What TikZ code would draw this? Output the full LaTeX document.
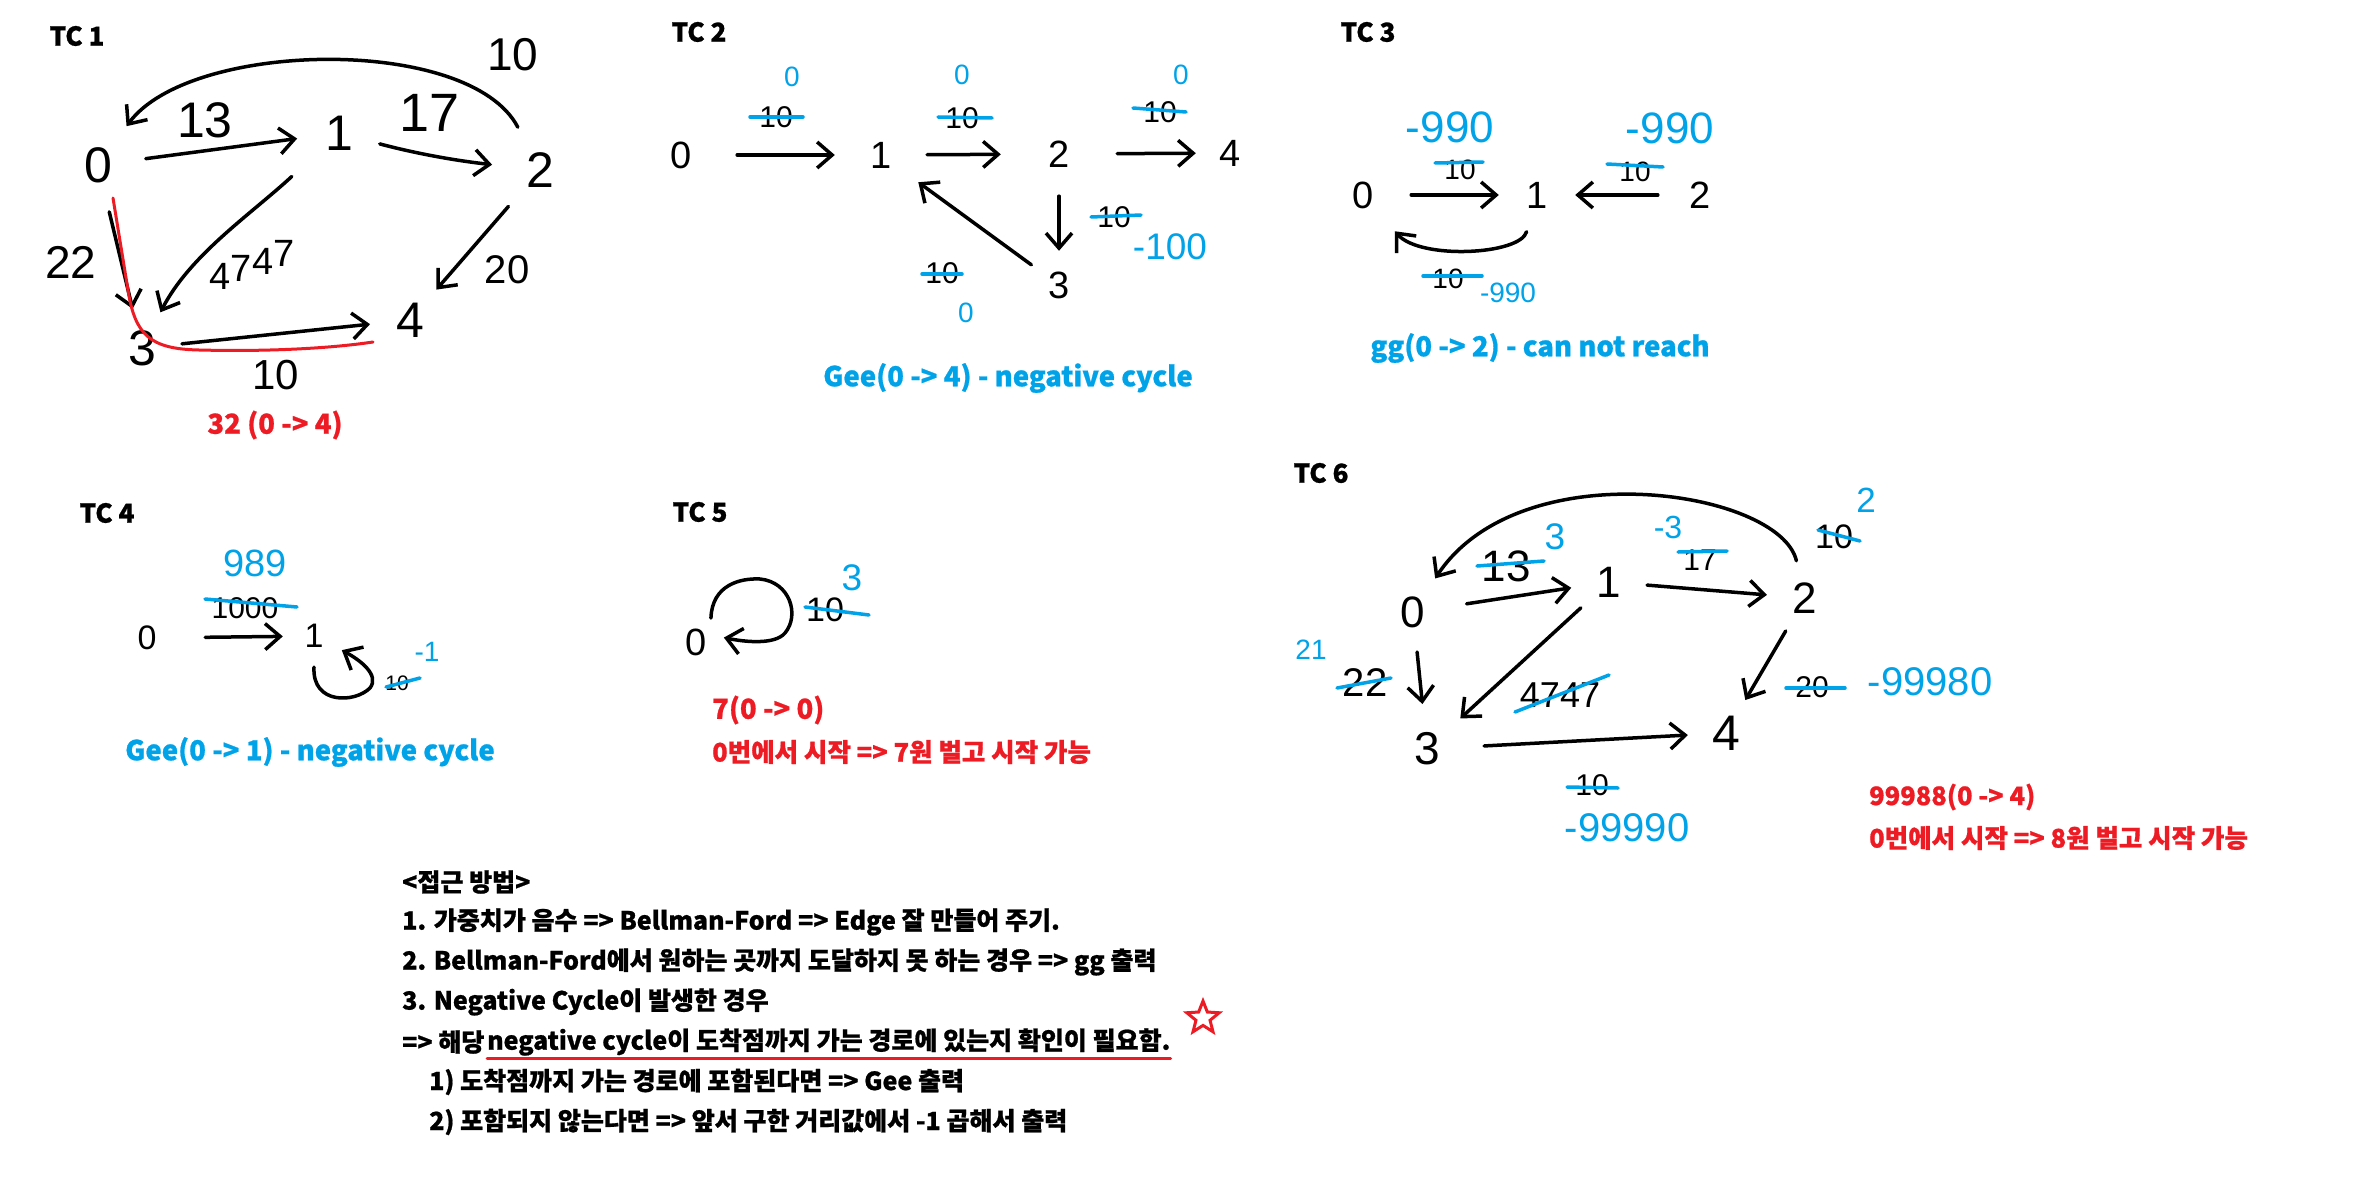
\documentclass[tikz,border=0pt]{standalone}
\usepackage{fontspec}
\setmainfont{Liberation Sans}
\newfontfamily\kr{Noto Sans CJK KR}[BoldFeatures={FakeBold=0.8}]
\usetikzlibrary{arrows.meta,shapes.geometric}
\definecolor{pblue}{RGB}{0,162,232}
\definecolor{pred}{RGB}{237,28,36}
\tikzset{
  hd/.style={circle, inner sep=0pt, minimum size=#1},
  fs/.style={font=\fontsize{#1}{#1}\selectfont},
  wl/.style={inner sep=0pt, font=\fontsize{#1}{#1}\selectfont},
  bl/.style={inner sep=0pt, text=pblue, font=\fontsize{#1}{#1}\selectfont},
  strike/.style={draw=pblue, line width=3.5pt, line cap=round},
  edge/.style={line width=3.5pt, line cap=round, line join=round, -{Straight Barb[length=15pt,width=26pt,line width=3.5pt]}},
  tctitle/.style={inner sep=0pt, font=\kr\bfseries\fontsize{26}{26}\selectfont},
  bigtitle/.style={inner sep=0pt, font=\kr\bfseries\fontsize{27.5}{27.5}\selectfont},
  bluetext/.style={bigtitle, text=pblue},
  redtext/.style={bigtitle, text=pred},
  rednote/.style={inner sep=0pt, anchor=west, text=pred, font=\kr\bfseries\fontsize{25.5}{25.5}\selectfont},
  note/.style={inner sep=0pt, anchor=west, font=\kr\bfseries\fontsize{25}{25}\selectfont},
  redline/.style={draw=pred, line width=3pt, line cap=round, line join=round},
}
\begin{document}
\begin{tikzpicture}[x=1pt,y=-1pt]
\fill[white] (0,0) rectangle (2368,1204);
\useasboundingbox (0,0) rectangle (2368,1204);

% ================= TC 1 =================
\node[tctitle] (tc1) at (77,36) {TC 1};
\node[hd=96, fs=50] (t1a) at (98,165) {0};
\node[hd=84, fs=50] (t1b) at (339,133) {1};
\node[hd=96, fs=50] (t1c) at (540,170) {2};
\node[hd=80, fs=50] (t1d) at (142,348) {3};
\node[hd=80, fs=50] (t1e) at (410,320) {4};
\draw[edge] (t1a) -- (t1b);
\draw[edge] (t1b) .. controls (410,152) and (450,160) .. (t1c);
\draw[edge] (t1c) .. controls (470,35) and (190,40) .. (t1a);
\draw[edge, shorten <=22pt] (t1b) .. controls (250,215) and (190,255) .. (t1d);
\draw[edge] (t1a) -- (t1d);
\draw[edge] (t1c) -- (t1e);
\draw[edge] (t1d) -- (t1e);
\node[wl=50] (l1a) at (205,120) {13};
\node[wl=54] (l1b) at (430,113) {17};
\node[wl=46] (l1c) at (513,55) {10};
\node[wl=38] (l1d) at (252,265) {4\raisebox{8pt}{7}\raisebox{15pt}{4}\raisebox{23pt}{7}};
\node[wl=46] (l1e) at (71,262) {22};
\node[wl=40] (l1f) at (507,270) {20};
\node[wl=42] (l1g) at (276,375) {10};
\draw[redline] (113,198) -- (128,290) .. controls (135,335) and (150,349) .. (199,350) .. controls (280,352) and (340,347) .. (373,342);
\node[redtext] (r1) at (275,425) {32 (0 -> 4)};

% ================= TC 2 =================
\node[tctitle] (tc2) at (699,32) {TC 2};
\node[hd=112, fs=38] (t2a) at (681,155) {0};
\node[hd=92, fs=38] (t2b) at (881,155) {1};
\node[hd=116, fs=38] (t2c) at (1059,154) {2};
\node[hd=68, fs=38] (t2d) at (1059,285) {3};
\node[hd=68, fs=38] (t2e) at (1230,153) {4};
\draw[edge] (t2a) -- (t2b);
\draw[edge] (t2b) -- (t2c);
\draw[edge] (t2c) -- (t2e);
\draw[edge, shorten <=-16pt] (t2c) -- (t2d);
\draw[edge] (t2d) -- (t2b);
\node[wl=30] (w21) at (776,117) {10};
\node[wl=30] (w22) at (962,118) {10};
\node[wl=30] (w23) at (1160,112) {10};
\node[wl=30] (w24) at (1114,217) {10};
\node[wl=30] (w25) at (942,273) {10};
\draw[strike] ([shift={(-26,0)}]w21.center) -- ([shift={(27,0)}]w21.center);
\draw[strike] ([shift={(-24,-1)}]w22.center) -- ([shift={(30,0)}]w22.center);
\draw[strike] ([shift={(-27,-4)}]w23.center) -- ([shift={(26,0)}]w23.center);
\draw[strike] ([shift={(-23,0)}]w24.center) -- ([shift={(27,-2)}]w24.center);
\draw[strike] ([shift={(-20,1)}]w25.center) -- ([shift={(20,1)}]w25.center);
\node[bl=28] (b21) at (792,77) {0};
\node[bl=28] (b22) at (962,75) {0};
\node[bl=28] (b23) at (1181,75) {0};
\node[bl=37] (b24) at (1170,247) {-100};
\node[bl=28] (b25) at (966,313) {0};
\node[bluetext] (g2) at (1008,378) {Gee(0 -> 4) - negative cycle};

% ================= TC 3 =================
\node[tctitle] (tc3) at (1368,32) {TC 3};
\node[hd=96, fs=38] (t3a) at (1363,195) {0};
\node[hd=76, fs=38] (t3b) at (1537,195) {1};
\node[hd=84, fs=38] (t3c) at (1700,195) {2};
\draw[edge] (t3a) -- (t3b);
\draw[edge] (t3c) -- (t3b);
\draw[edge] (t3b) .. controls (1520,255) and (1420,260) .. (t3a);
\node[wl=28] (w31) at (1460,170) {10};
\node[wl=28] (w32) at (1635,172) {10};
\node[wl=28] (w33) at (1448,279) {10};
\draw[strike] ([shift={(-25,-7)}]w31.center) -- ([shift={(23,-8)}]w31.center);
\draw[strike] ([shift={(-28,-8)}]w32.center) -- ([shift={(28,-5)}]w32.center);
\draw[strike] ([shift={(-25,-3)}]w33.center) -- ([shift={(34,-3)}]w33.center);
\node[bl=44] (b31) at (1450,127) {-990};
\node[bl=44] (b32) at (1670,128) {-990};
\node[bl=28] (b33) at (1508,293) {-990};
\node[bluetext] (g3) at (1540,348) {gg(0 -> 2) - can not reach};

% ================= TC 4 =================
\node[tctitle] (tc4) at (107,513) {TC 4};
\node[hd=116, fs=34] (t4a) at (147,638) {0};
\node[hd=62, fs=34] (t4b) at (314,636) {1};
\draw[edge] (t4a) -- (t4b);
\draw[edge] (t4b.south) .. controls (312,705) and (355,703) .. (370,688) .. controls (380,675) and (360,660) .. (t4b.-27);
\node[wl=30] (w41) at (245,608) {1000};
\node[wl=21] (w42) at (397,683) {10};
\draw[strike] ([shift={(-40,-9)}]w41.center) -- ([shift={(52,-1)}]w41.center);
\draw[strike] ([shift={(-11,4)}]w42.center) -- ([shift={(23,-5)}]w42.center);
\node[bl=38] (b41) at (255,563) {989};
\node[bl=28] (b42) at (427,652) {-1};
\node[bluetext] (g4) at (310,752) {Gee(0 -> 1) - negative cycle};

% ================= TC 5 =================
\node[tctitle] (tc5) at (700,512) {TC 5};
\node[hd=56, fs=38] (t5a) at (696,642) {0};
\draw[edge] (t5a.58) .. controls (712,585) and (740,578) .. (760,579) .. controls (790,582) and (800,615) .. (785,633) .. controls (775,645) and (745,642) .. (t5a.9);
\node[wl=34] (w51) at (825,610) {10};
\draw[strike] ([shift={(-20,-3)}]w51.center) -- ([shift={(44,5)}]w51.center);
\node[bl=37] (b51) at (852,578) {3};
\node[redtext, anchor=west] (r5a) at (712,710) {7(0 -> 0)};
\node[rednote] (r5b) at (712,752) {0번에서 시작 => 7원 벌고 시작 가능};

% ================= TC 6 =================
\node[tctitle] (tc6) at (1321,473) {TC 6};
\node[hd=80, fs=44] (t6a) at (1413,612) {0};
\node[hd=76, fs=44] (t6b) at (1609,582) {1};
\node[hd=76, fs=44] (t6c) at (1805,598) {2};
\node[hd=90, fs=46] (t6d) at (1427,749) {3};
\node[hd=76, fs=50] (t6e) at (1726,733) {4};
\draw[edge, shorten <=14pt] (t6a) -- (t6b);
\draw[edge] (t6b) -- (t6c);
\draw[edge] (t6c) .. controls (1780,490) and (1520,450) .. (t6a);
\draw[edge] (t6a) -- (t6d);
\draw[edge] (t6b) -- (t6d);
\draw[edge] (t6c) -- (t6e);
\draw[edge, shorten <=12pt] (t6d) -- (t6e);
\node[wl=44] (w61) at (1506,566) {13};
\node[wl=30] (w62) at (1700,560) {17};
\node[wl=34] (w63) at (1834,537) {10};
\node[wl=40] (w64) at (1365,683) {22};
\node[wl=36] (w65) at (1560,695) {4747};
\node[wl=30] (w66) at (1812,687) {20};
\node[wl=30] (w67) at (1592,785) {10};
\draw[strike] ([shift={(-29,0)}]w61.center) -- ([shift={(38,-5)}]w61.center);
\draw[strike] ([shift={(-22,-8)}]w62.center) -- ([shift={(27,-9)}]w62.center);
\draw[strike] ([shift={(-16,-7)}]w63.center) -- ([shift={(26,4)}]w63.center);
\draw[strike] ([shift={(-28,5)}]w64.center) -- ([shift={(26,-5)}]w64.center);
\draw[strike] ([shift={(-45,17)}]w65.center) -- ([shift={(49,-20)}]w65.center);
\draw[strike] ([shift={(-26,1)}]w66.center) -- ([shift={(33,1)}]w66.center);
\draw[strike] ([shift={(-25,2)}]w67.center) -- ([shift={(26,3)}]w67.center);
\node[bl=37] (b61) at (1555,537) {3};
\node[bl=32] (b62) at (1668,527) {-3};
\node[bl=35] (b63) at (1866,500) {2};
\node[bl=28] (b64) at (1311,650) {21};
\node[bl=40] (b66) at (1930,682) {-99980};
\node[bl=40] (b67) at (1627,828) {-99990};
\node[rednote] (r6a) at (1869,797) {99988(0 -> 4)};
\node[rednote] (r6b) at (1869,838) {0번에서 시작 => 8원 벌고 시작 가능};

% ================= Notes =================
\node[note] (n0) at (402,882) {<접근 방법>};
\node[note] (n1) at (402,922) {1. 가중치가 음수 => Bellman-Ford => Edge 잘 만들어 주기.};
\node[note] (n2) at (402,962) {2. Bellman-Ford에서 원하는 곳까지 도달하지 못 하는 경우 => gg 출력};
\node[note] (n3) at (402,1002) {3. Negative Cycle이 발생한 경우};
\node[note] (n4a) at (402,1042) {=> 해당};
\node[note] (n4b) at (487,1042) {negative cycle이 도착점까지 가는 경로에 있는지 확인이 필요함.};
\draw[redline] ([shift={(0,16)}]n4b.west) -- ([shift={(0,16)}]n4b.east);
\node[star, star points=5, star point ratio=2.3, draw=pred, line width=3pt, minimum size=34pt, inner sep=0pt] (st) at (1203,1018) {};
\node[note] (n5) at (429,1082) {1) 도착점까지 가는 경로에 포함된다면 => Gee 출력};
\node[note] (n6) at (429,1122) {2) 포함되지 않는다면 => 앞서 구한 거리값에서 -1 곱해서 출력};
\end{tikzpicture}
\end{document}
